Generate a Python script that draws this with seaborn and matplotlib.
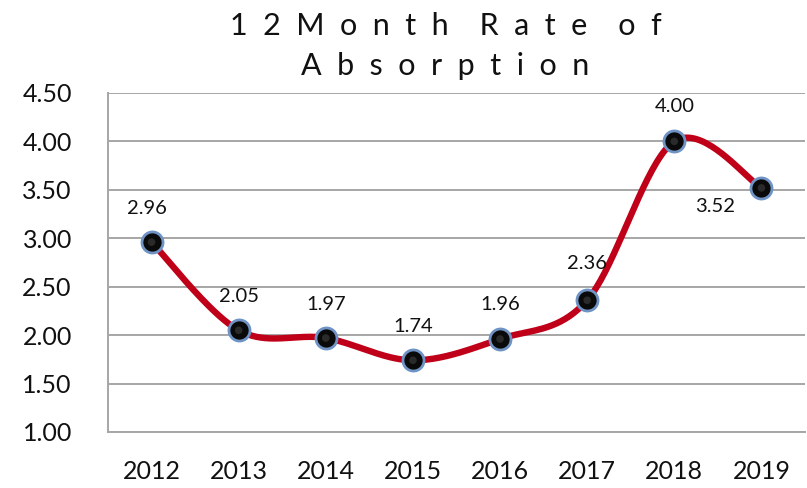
import numpy as np
import pandas as pd
import matplotlib
matplotlib.use("Agg")
import matplotlib.pyplot as plt
import seaborn as sns

years = ["2012", "2013", "2014", "2015", "2016", "2017", "2018", "2019"]
rates = [2.96, 2.05, 1.97, 1.74, 1.96, 2.36, 4.00, 3.52]
labels = ["2.96", "2.05", "1.97", "1.74", "1.96", "2.36", "4.00", "3.52"]
yticks = [1.00, 1.50, 2.00, 2.50, 3.00, 3.50, 4.00, 4.50]
title_line1 = ["12Month", "Rate", "of"]
title_line2 = ["Absorption"]

sns.set_style("white")
plt.rcParams["font.family"] = ["Lato", "DejaVu Sans"]

fig = plt.figure(figsize=(8.07, 4.88), dpi=100)
ax = fig.add_axes([0.1338, 0.1148, 0.8637, 0.6947])

df = pd.DataFrame({"x": np.arange(len(years)), "year": years, "rate": rates})

# smooth curve (Catmull-Rom / Bezier like spreadsheet smoothing)
P = np.column_stack([df["x"].values.astype(float), df["rate"].values])
Pext = np.vstack([P[0], P, P[-1]])
xs, ys = [], []
t = np.linspace(0, 1, 40)
for i in range(len(P) - 1):
    p0, p1, p2, p3 = Pext[i], Pext[i + 1], Pext[i + 2], Pext[i + 3]
    c1 = p1 + (p2 - p0) / 6
    c2 = p2 - (p3 - p1) / 6
    b = (np.outer((1 - t) ** 3, p1) + np.outer(3 * (1 - t) ** 2 * t, c1)
         + np.outer(3 * (1 - t) * t ** 2, c2) + np.outer(t ** 3, p2))
    xs.extend(b[:, 0]); ys.extend(b[:, 1])
smooth = pd.DataFrame({"x": xs, "y": ys})

sns.lineplot(data=smooth, x="x", y="y", sort=False, color="#C00018",
             linewidth=4.6, ax=ax, zorder=3)
sns.scatterplot(data=df, x="x", y="rate", s=230, color="#0a0a0a",
                edgecolor="#6E93C4", linewidth=2.0, ax=ax, zorder=4)
sns.scatterplot(data=df, x="x", y="rate", s=30, color="#2a2a2a",
                edgecolor="none", ax=ax, zorder=5)

offsets = [(-5, 34), (0, 34), (0, 34), (0, 34), (0, 34), (0, 37), (0, 35), (-46, -19)]
for i, (lab, (dx, dy)) in enumerate(zip(labels, offsets)):
    ax.annotate(lab, (i, rates[i]), xytext=(dx, dy), textcoords="offset pixels",
                ha="center", va="center", fontsize=14.5, color="#111111", zorder=6)

ax.set_xlim(-0.5, len(years) - 0.5)
ax.set_ylim(1.0, 4.5)
ax.set_yticks(yticks)
ax.set_yticklabels([f"{v:.2f}" for v in yticks], fontsize=18)
ax.set_xticks(range(len(years)))
ax.set_xticklabels(years, fontsize=18)
ax.tick_params(axis="both", length=0, colors="#111111")
ax.tick_params(axis="y", pad=26)
ax.tick_params(axis="x", pad=20)
ax.set_xlabel("")
ax.set_ylabel("")
ax.grid(axis="y", color="#A6A6A6", linewidth=1.4)
ax.set_axisbelow(True)
for s in ["top", "right"]:
    ax.spines[s].set_visible(False)
for s in ["left", "bottom"]:
    ax.spines[s].set_color("#A6A6A6")
    ax.spines[s].set_linewidth(1.4)

def spaced(words):
    return "    ".join("  ".join(w) for w in words)

fig.text(0.552, 0.947, spaced(title_line1), ha="center", va="center", fontsize=22,
         color="#111111")
fig.text(0.552, 0.865, spaced(title_line2), ha="center", va="center", fontsize=22,
         color="#111111")

fig.savefig("out.png", dpi=100)
